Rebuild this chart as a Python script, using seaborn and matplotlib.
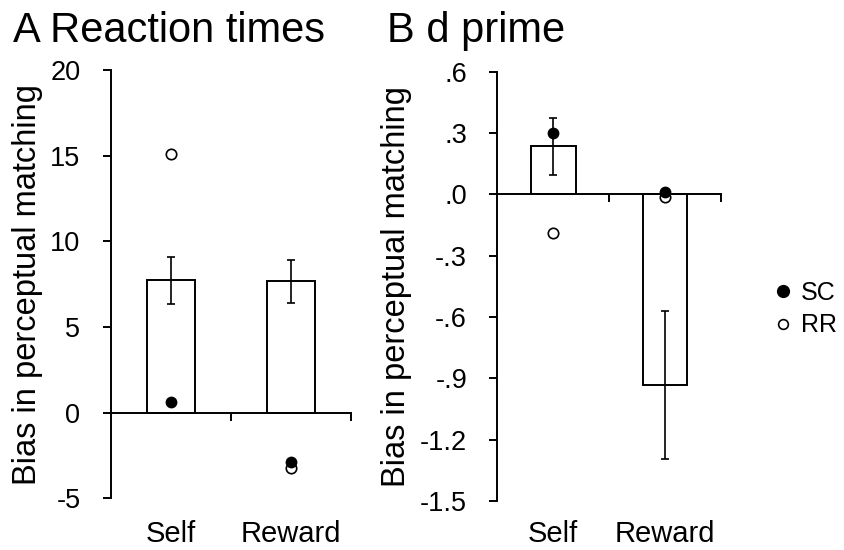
import matplotlib.pyplot as plt
import pandas as pd
import seaborn as sns
from matplotlib.lines import Line2D

conditions = ["Self", "Reward"]
group_names = ["SC", "RR"]

# A: reaction times
rt_mean = [7.72, 7.66]
rt_se = [1.36, 1.28]
rt_sc = [0.6, -2.85]
rt_rr = [15.07, -3.25]
rt_ticks = [-5, 0, 5, 10, 15, 20]
rt_ticklabels = ["-5", "0", "5", "10", "15", "20"]

# B: d prime
dp_mean = [0.235, -0.933]
dp_se = [0.138, 0.363]
dp_sc = [0.298, 0.013]
dp_rr = [-0.191, -0.012]
dp_ticks = [-1.5, -1.2, -0.9, -0.6, -0.3, 0.0, 0.3, 0.6]
dp_ticklabels = ["-1.5", "-1.2", "-.9", "-.6", "-.3", ".0", ".3", ".6"]

LW = 1.4

sns.set_style("ticks")
plt.rcParams["font.family"] = ["Liberation Sans", "DejaVu Sans"]
plt.rcParams.update({
    "axes.linewidth": LW,
    "axes.edgecolor": "black",
    "axes.labelcolor": "black",
    "text.color": "black",
    "xtick.color": "black",
    "ytick.color": "black",
})


def draw_panel(ax, mean, se, sc, rr, ticks, ticklabels, label_x, xpad):
    df = pd.DataFrame({"condition": conditions, "mean": mean, "se": se,
                       "SC": sc, "RR": rr})
    sns.barplot(data=df, x="condition", y="mean", order=conditions, width=0.4,
                color="white", saturation=1, edgecolor="black", linewidth=LW,
                errorbar=None, ax=ax, zorder=2)
    ax.errorbar(x=range(len(conditions)), y=df["mean"], yerr=df["se"], fmt="none",
                ecolor="black", elinewidth=1.2, capsize=3, capthick=1.2, zorder=3)
    # open circles first so the filled ones sit on top where they overlap
    sns.stripplot(data=df, x="condition", y="RR", order=conditions, jitter=False,
                  color="white", edgecolor="black", linewidth=1.2, size=7.5,
                  ax=ax, zorder=4)
    sns.stripplot(data=df, x="condition", y="SC", order=conditions, jitter=False,
                  color="black", linewidth=0, size=8.5, ax=ax, zorder=5)

    sns.despine(ax=ax)
    ax.set_xlim(-0.5, len(conditions) - 0.5)
    ax.set_ylim(ticks[0], ticks[-1])
    ax.set_yticks(ticks, ticklabels)
    ax.tick_params(axis="y", direction="out", length=5.8, width=LW, pad=16,
                   labelsize=19.5, left=True)

    # x axis runs along zero, with ticks between the categories
    ax.spines["bottom"].set_position(("data", 0))
    ax.set_xticks([i + 0.5 for i in range(len(conditions))])
    ax.tick_params(axis="x", direction="out", length=5.5, width=LW, bottom=True,
                   labelbottom=False)
    ax.set_xlabel("")

    # category names at the bottom of the panel
    sec = ax.secondary_xaxis("bottom")
    sec.set_xticks(range(len(conditions)), conditions)
    sec.tick_params(length=0, pad=xpad, labelsize=21)
    for s in sec.spines.values():
        s.set_visible(False)

    ax.set_ylabel("Bias in perceptual matching", fontsize=23.5)
    ax.yaxis.set_label_coords(label_x, 0.5)


fig = plt.figure(figsize=(8.45, 5.5), dpi=100)
ax_a = fig.add_axes([0.1310, 0.0938, 0.2838, 0.7789])
ax_b = fig.add_axes([0.5885, 0.0891, 0.2647, 0.7805])

draw_panel(ax_a, rt_mean, rt_se, rt_sc, rt_rr, rt_ticks, rt_ticklabels, -0.283, 15.5)
draw_panel(ax_b, dp_mean, dp_se, dp_sc, dp_rr, dp_ticks, dp_ticklabels, -0.383, 13.5)

fig.text(0.015, 0.9245, "A Reaction times", fontsize=30, va="baseline")
fig.text(0.4576, 0.9245, "B d prime", fontsize=30, va="baseline")

handles = [
    Line2D([], [], linestyle="", marker="o", markersize=8.5,
           markerfacecolor="black", markeredgecolor="black"),
    Line2D([], [], linestyle="", marker="o", markersize=7, markeredgewidth=1.2,
           markerfacecolor="white", markeredgecolor="black"),
]
fig.legend(handles, group_names, loc="center left", bbox_to_anchor=(0.918, 0.438),
           frameon=False, fontsize=18, handlelength=0.6, handletextpad=0.4,
           labelspacing=0.35, borderpad=0, borderaxespad=0)

fig.savefig("out.png", dpi=100)
